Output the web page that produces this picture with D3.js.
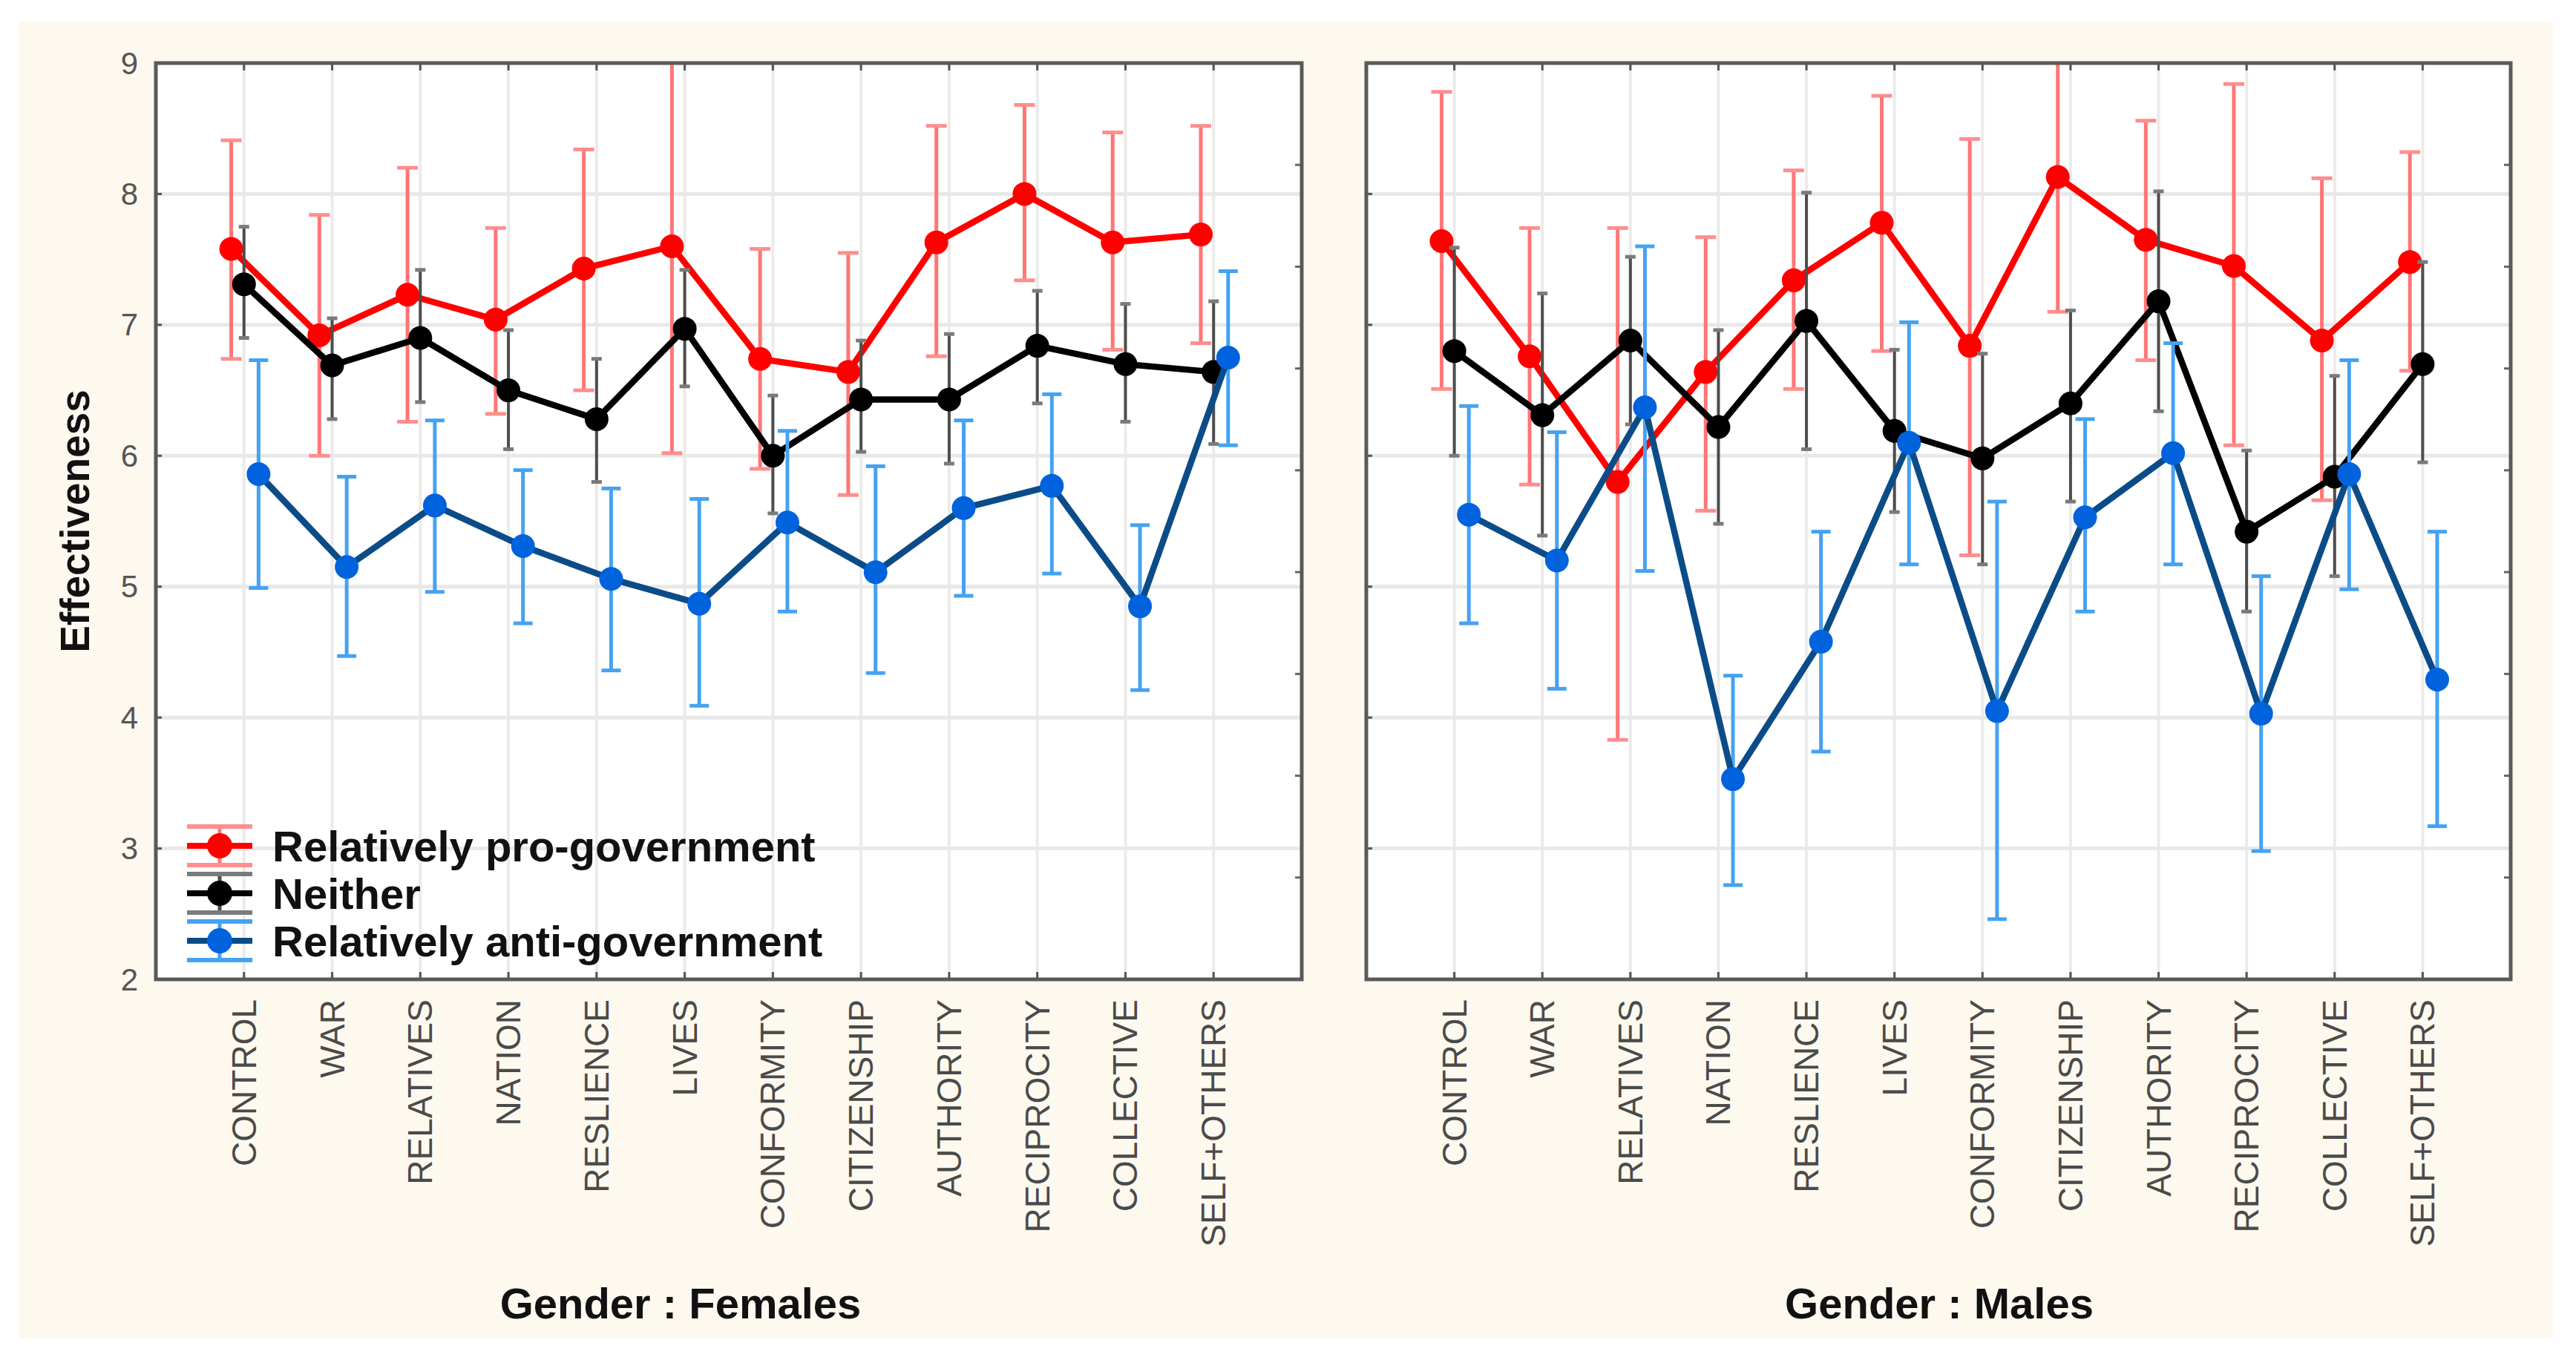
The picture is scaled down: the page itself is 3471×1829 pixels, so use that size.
<!DOCTYPE html>
<html><head><meta charset="utf-8">
<script src="https://cdn.jsdelivr.net/npm/d3@7/dist/d3.min.js"></script>
<style>html,body{margin:0;padding:0;background:#fff;} svg{display:block;}</style>
</head><body>
<script>
// ---------- data ----------
const categories = ["CONTROL","WAR","RELATIVES","NATION","RESLIENCE","LIVES","CONFORMITY","CITIZENSHIP","AUTHORITY","RECIPROCITY","COLLECTIVE","SELF+OTHERS"];
const groups = ["Relatively pro-government","Neither","Relatively anti-government"];
const panelTitles = ["Gender : Females","Gender : Males"];
const yTicks = [2,3,4,5,6,7,8,9];
const yAxisTitle = "Effectiveness";

// Females
const femProMean  = [7.58,6.92,7.23,7.04,7.43,7.60,6.74,6.64,7.63,8.00,7.63,7.69];
const femProUpper = [8.41,7.84,8.20,7.74,8.34,9.30,7.58,7.55,8.52,8.68,8.47,8.52];
const femProLower = [6.74,6.00,6.26,6.32,6.50,6.02,5.90,5.70,6.76,7.34,6.81,6.86];
const femNeiMean  = [7.31,6.69,6.90,6.50,6.28,6.97,6.00,6.43,6.43,6.84,6.70,6.64];
const femNeiUpper = [7.75,7.05,7.42,6.96,6.74,7.42,6.46,6.88,6.93,7.26,7.16,7.18];
const femNeiLower = [6.90,6.28,6.41,6.05,5.80,6.53,5.56,6.03,5.94,6.40,6.26,6.09];
const femAntiMean  = [5.86,5.15,5.62,5.31,5.06,4.87,5.49,5.11,5.60,5.77,4.85,6.75];
const femAntiUpper = [6.73,5.84,6.27,5.89,5.75,5.67,6.19,5.92,6.27,6.47,5.47,7.41];
const femAntiLower = [4.99,4.47,4.96,4.72,4.36,4.09,4.81,4.34,4.93,5.10,4.21,6.08];

// Males
const malProMean  = [7.64,6.76,5.80,6.64,7.34,7.78,6.84,8.13,7.65,7.45,6.88,7.48];
const malProUpper = [8.78,7.74,7.74,7.67,8.18,8.75,8.42,9.20,8.56,8.84,8.12,8.32];
const malProLower = [6.51,5.78,3.83,5.58,6.51,6.80,5.24,7.10,6.73,6.08,5.66,6.65];
const malNeiMean  = [6.80,6.31,6.88,6.22,7.03,6.19,5.98,6.40,7.18,5.42,5.84,6.70];
const malNeiUpper = [7.59,7.24,7.52,6.96,8.01,6.81,6.78,7.11,8.02,6.04,6.61,7.48];
const malNeiLower = [6.00,5.39,6.24,5.48,6.05,5.57,5.17,5.65,6.34,4.81,5.08,5.95];
const malAntiMean  = [5.55,5.20,6.37,3.53,4.58,6.10,4.05,5.53,6.02,4.03,5.86,4.29];
const malAntiUpper = [6.38,6.18,7.60,4.32,5.42,7.02,5.65,6.28,6.86,5.08,6.73,5.42];
const malAntiLower = [4.72,4.22,5.12,2.72,3.74,5.17,2.46,4.81,5.17,2.98,4.98,3.17];

const panelsData = [
  [ {mean:femProMean, upper:femProUpper, lower:femProLower},
    {mean:femNeiMean, upper:femNeiUpper, lower:femNeiLower},
    {mean:femAntiMean, upper:femAntiUpper, lower:femAntiLower} ],
  [ {mean:malProMean, upper:malProUpper, lower:malProLower},
    {mean:malNeiMean, upper:malNeiUpper, lower:malNeiLower},
    {mean:malAntiMean, upper:malAntiUpper, lower:malAntiLower} ]
];

// ---------- styles / layout ----------
const W = 3471, H = 1829;
const FONT = "'Liberation Sans', Arial, Helvetica, sans-serif";
const styles = [
  {line:"#ff0000", marker:"#ff0000", bar:"#ff7676", cap:"#ff8e8e", capHalf:14, capW:5, barW:5, offset:-0.145},
  {line:"#000000", marker:"#000000", bar:"#4d4d4d", cap:"#7a7a7a", capHalf:7,  capW:5, barW:4, offset:0},
  {line:"#0b4c88", marker:"#0063dd", bar:"#45a2f2", cap:"#45a2f2", capHalf:13, capW:5, barW:5, offset:0.165}
];
const panelBoxes = [ {x0:210, x1:1754, titleX:917}, {x0:1841, x1:3383, titleX:2613} ];
const plotTop = 85, plotBottom = 1320;

const svg = d3.select("body").append("svg").attr("width", W).attr("height", H);
svg.append("rect").attr("width", W).attr("height", H).attr("fill", "#ffffff");
svg.append("rect").attr("x", 25).attr("y", 29).attr("width", 3416).attr("height", 1775).attr("fill", "#fdf9ef");

const y = d3.scaleLinear().domain([d3.min(yTicks), d3.max(yTicks)]).range([plotBottom, plotTop]);
const yRight = d3.scaleLinear().domain([0, 9]).range([plotBottom, plotTop]);

panelBoxes.forEach((pb, pi) => {
  const x = d3.scaleLinear().domain([0, categories.length + 1]).range([pb.x0, pb.x1]);
  const g = svg.append("g");
  const clipId = "clip" + pi;
  svg.append("clipPath").attr("id", clipId).append("rect")
    .attr("x", pb.x0).attr("y", plotTop).attr("width", pb.x1 - pb.x0).attr("height", plotBottom - plotTop);

  // plot area
  g.append("rect").attr("x", pb.x0).attr("y", plotTop).attr("width", pb.x1 - pb.x0).attr("height", plotBottom - plotTop).attr("fill", "#ffffff");

  // gridlines
  g.selectAll(".vg").data(categories).enter().append("line")
    .attr("x1", (d,i) => x(i+1)).attr("x2", (d,i) => x(i+1))
    .attr("y1", plotTop).attr("y2", plotBottom).attr("stroke", "#ebebeb").attr("stroke-width", 4);
  g.selectAll(".hg").data(yTicks.slice(1, -1)).enter().append("line")
    .attr("x1", pb.x0).attr("x2", pb.x1).attr("y1", d => y(d)).attr("y2", d => y(d))
    .attr("stroke", "#e8e8e8").attr("stroke-width", 5);

  // ticks: top & bottom at categories
  categories.forEach((c, i) => {
    g.append("line").attr("x1", x(i+1)).attr("x2", x(i+1)).attr("y1", plotTop).attr("y2", plotTop + 10).attr("stroke", "#555").attr("stroke-width", 3);
    g.append("line").attr("x1", x(i+1)).attr("x2", x(i+1)).attr("y1", plotBottom).attr("y2", plotBottom - 10).attr("stroke", "#555").attr("stroke-width", 3);
  });
  // left ticks
  yTicks.forEach(t => {
    g.append("line").attr("x1", pb.x0).attr("x2", pb.x0 + 8).attr("y1", y(t)).attr("y2", y(t)).attr("stroke", "#555").attr("stroke-width", 3);
  });
  // right ticks (secondary scale)
  d3.range(1, 9).forEach(t => {
    g.append("line").attr("x1", pb.x1).attr("x2", pb.x1 - 9).attr("y1", yRight(t)).attr("y2", yRight(t)).attr("stroke", "#666").attr("stroke-width", 3);
  });

  // series
  const plot = g.append("g").attr("clip-path", `url(#${clipId})`);
  panelsData[pi].forEach((s, si) => {
    const st = styles[si];
    const px = i => x(i + 1 + st.offset);
    const sg = plot.append("g");
    // error bars
    s.mean.forEach((m, i) => {
      sg.append("line").attr("x1", px(i)).attr("x2", px(i)).attr("y1", y(s.upper[i])).attr("y2", y(s.lower[i]))
        .attr("stroke", st.bar).attr("stroke-width", st.barW);
      [s.upper[i], s.lower[i]].forEach(v => {
        sg.append("line").attr("x1", px(i) - st.capHalf).attr("x2", px(i) + st.capHalf)
          .attr("y1", y(v)).attr("y2", y(v)).attr("stroke", st.cap).attr("stroke-width", st.capW);
      });
    });
    // line
    const line = d3.line().x((d, i) => px(i)).y(d => y(d));
    sg.append("path").datum(s.mean).attr("d", line).attr("fill", "none")
      .attr("stroke", st.line).attr("stroke-width", 8.5).attr("stroke-linejoin", "round");
    // markers
    sg.selectAll("circle").data(s.mean).enter().append("circle")
      .attr("cx", (d, i) => px(i)).attr("cy", d => y(d)).attr("r", 16).attr("fill", st.marker);
  });

  // frame
  g.append("rect").attr("x", pb.x0).attr("y", plotTop).attr("width", pb.x1 - pb.x0).attr("height", plotBottom - plotTop)
    .attr("fill", "none").attr("stroke", "#5a5a5a").attr("stroke-width", 5);

  // x labels
  categories.forEach((c, i) => {
    g.append("text").attr("transform", `translate(${x(i+1)},1347) rotate(-90)`)
      .attr("text-anchor", "end").attr("dominant-baseline", "central")
      .attr("font-family", FONT).attr("font-size", 46).attr("fill", "#4a4a4a").text(c);
  });

  // panel title
  g.append("text").attr("x", pb.titleX).attr("y", 1777).attr("text-anchor", "middle")
    .attr("font-family", FONT).attr("font-weight", "bold").attr("font-size", 58).attr("fill", "#111").text(panelTitles[pi]);

  // y tick labels (left panel only)
  if (pi === 0) {
    yTicks.forEach(t => {
      g.append("text").attr("x", 186).attr("y", y(t)).attr("text-anchor", "end").attr("dominant-baseline", "central")
        .attr("font-family", FONT).attr("font-size", 42).attr("fill", "#555").text(t);
    });
    g.append("text").attr("transform", `translate(120,${(plotTop + plotBottom) / 2}) rotate(-90)`)
      .attr("text-anchor", "middle").attr("font-family", FONT).attr("font-weight", "bold")
      .attr("font-size", 55).attr("fill", "#111").text(yAxisTitle);

    // legend
    const legRows = [1140, 1204, 1268];
    const lx = 296;
    groups.forEach((name, gi) => {
      const st = styles[gi];
      const ly = legRows[gi];
      const lg = g.append("g");
      lg.append("line").attr("x1", lx).attr("x2", lx).attr("y1", ly - 26).attr("y2", ly + 26).attr("stroke", st.bar).attr("stroke-width", 5);
      [ly - 26, ly + 26].forEach(cy => lg.append("line").attr("x1", lx - 44).attr("x2", lx + 44).attr("y1", cy).attr("y2", cy)
        .attr("stroke", st.cap).attr("stroke-width", 6));
      lg.append("line").attr("x1", lx - 44).attr("x2", lx + 44).attr("y1", ly).attr("y2", ly).attr("stroke", st.line).attr("stroke-width", 8);
      lg.append("circle").attr("cx", lx).attr("cy", ly).attr("r", 17).attr("fill", st.marker);
      lg.append("text").attr("x", 367).attr("y", ly).attr("dominant-baseline", "central")
        .attr("font-family", FONT).attr("font-weight", "bold").attr("font-size", 58).attr("fill", "#111").text(name);
    });
  }
});
</script>
</body></html>
